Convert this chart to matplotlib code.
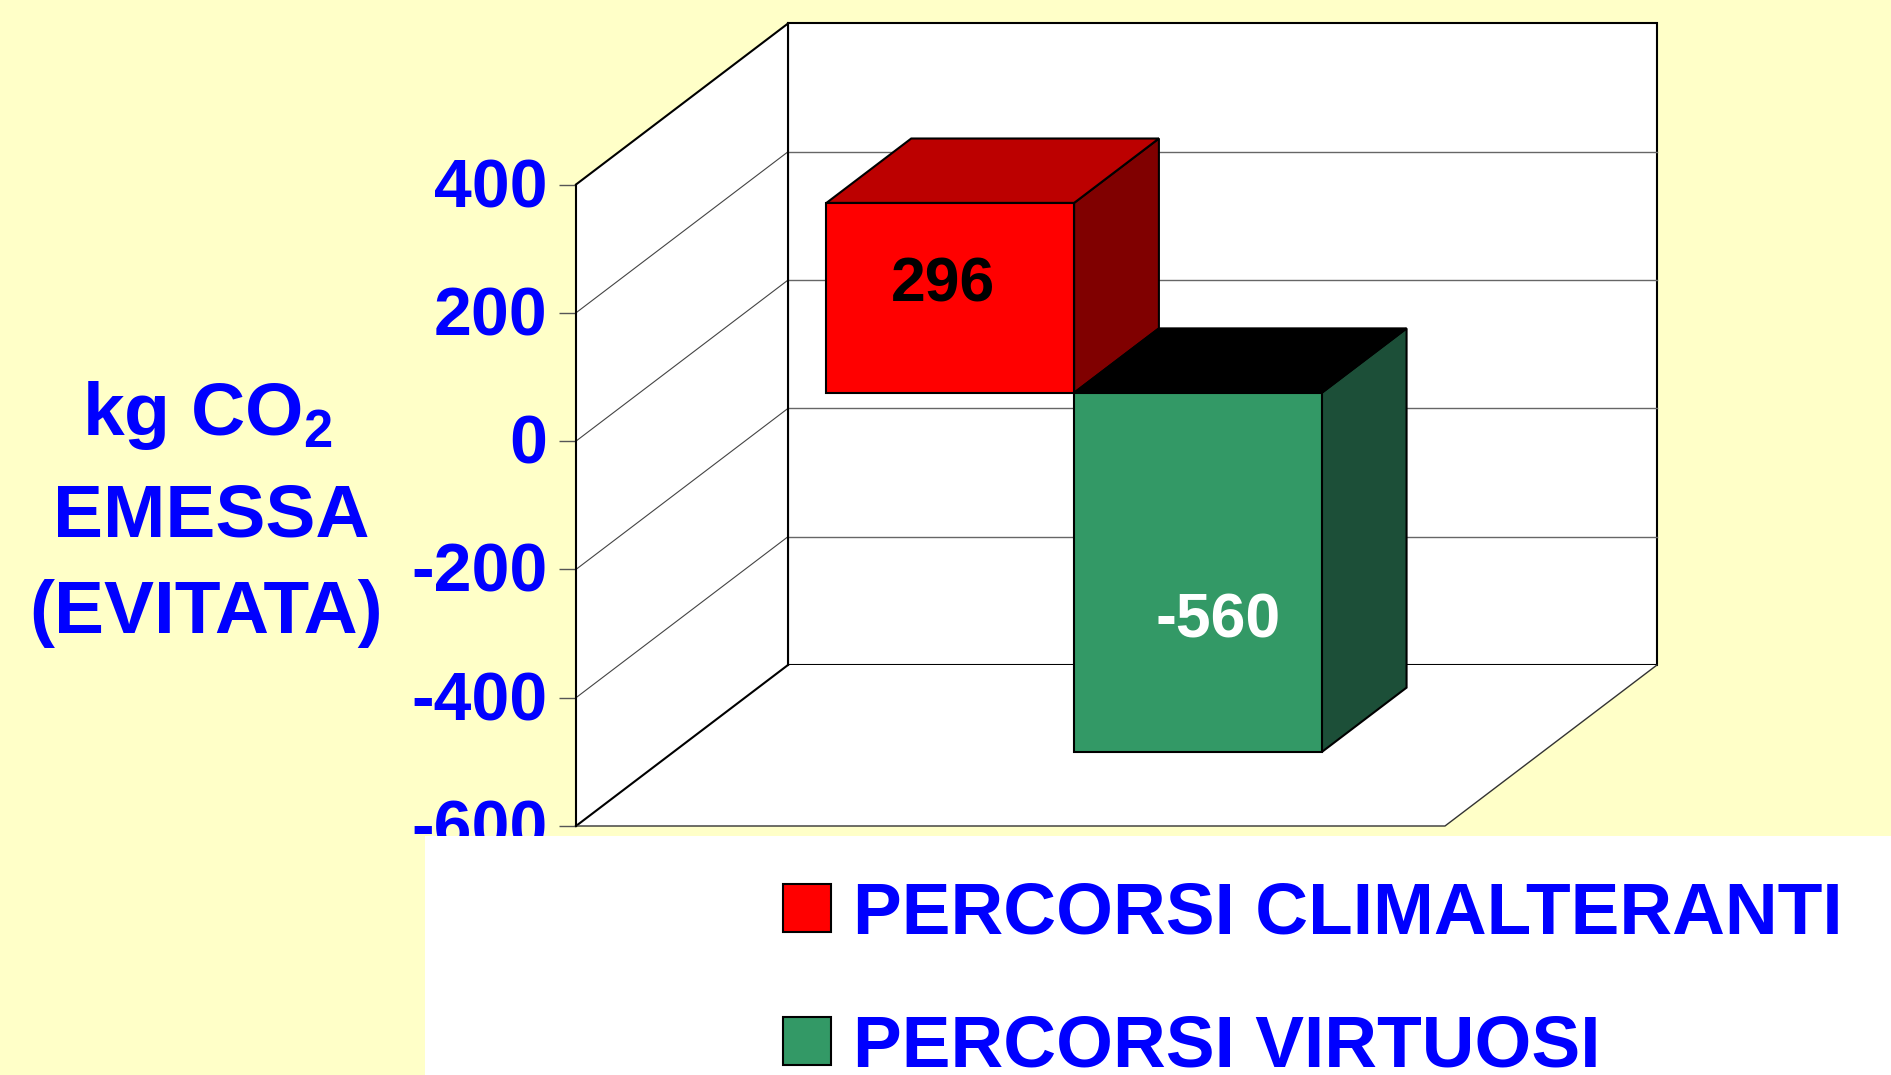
import matplotlib
matplotlib.use('Agg')
import matplotlib.pyplot as plt
from matplotlib.patches import Polygon, Rectangle
from matplotlib.transforms import ScaledTranslation

W, H = 1891, 1075
BG = '#FFFFC8'
BLUE = '#0000FF'

series = ['PERCORSI CLIMALTERANTI', 'PERCORSI VIRTUOSI']
values = [296, -560]
front_colors = ['#FF0000', '#339966']
top_colors = ['#BC0000', '#000000']
side_colors = ['#800000', '#1C4F38']
label_colors = ['black', 'white']
yticks = [-600, -400, -200, 0, 200, 400]
ylabel_lines = ['kg CO$_{\\mathbf{2}}$', 'EMESSA', '(EVITATA)']

# oblique depth: one unit of depth moves this far in x (axes width) and y (value)
DX = 212 / 869
DY = 251
BAR_W = 0.285
BAR_X0 = 0.215
D0, D1 = 0.30, 0.70

plt.rcParams['font.family'] = ['Liberation Sans', 'DejaVu Sans']
plt.rcParams['font.weight'] = 'bold'
plt.rcParams['mathtext.fontset'] = 'custom'
plt.rcParams['mathtext.rm'] = 'Liberation Sans:bold'
plt.rcParams['mathtext.bf'] = 'Liberation Sans:bold'


def proj(x, v, d):
    return (x + d * DX, v + d * DY)


def face(ax, pts, color, ec='black', lw=1.5, z=2):
    ax.add_patch(Polygon([proj(*p) for p in pts], closed=True, fc=color, ec=ec, lw=lw,
                         joinstyle='miter', clip_on=False, zorder=z))


def fx(px):
    return px / W


def fy(py):
    return 1 - py / H


fig = plt.figure(figsize=(W / 100, H / 100), dpi=100, facecolor=BG)
ax = fig.add_axes([fx(576), fy(826), 869 / W, 641.5 / H])
ax.set_xlim(0, 1)
ax.set_ylim(-600, 400)
ax.patch.set_visible(False)
for s in ['top', 'right', 'bottom']:
    ax.spines[s].set_visible(False)
ax.spines['left'].set_linewidth(1.5)
ax.set_xticks([])
ax.set_yticks(yticks)
ax.set_yticklabels([str(t) for t in yticks])  # plain hyphen, not the unicode minus
ax.tick_params(axis='y', length=12, width=1, color='#555555', pad=8.5,
               labelsize=49, labelcolor=BLUE)
for lab in ax.get_yticklabels():
    lab.set_transform(lab.get_transform() + ScaledTranslation(0, 1.8 / 72, fig.dpi_scale_trans))

# walls and floor
vmin, vmax = yticks[0], yticks[-1]
face(ax, [(0, vmin, 1), (1, vmin, 1), (1, vmax, 1), (0, vmax, 1)], 'white', z=1)
face(ax, [(0, vmin, 0), (0, vmin, 1), (0, vmax, 1), (0, vmax, 0)], 'white', ec='none', z=1)
face(ax, [(0, vmin, 0), (1, vmin, 0), (1, vmin, 1), (0, vmin, 1)], 'white', ec='none', z=1)

# gridlines on both walls
for t in yticks:
    major = t in (vmin, vmax)
    xs, ys = zip(proj(0, t, 0), proj(0, t, 1), proj(1, t, 1))
    ax.plot(xs[:2], ys[:2], color='black' if major else '#444444', lw=1.5 if major else 0.8,
            clip_on=False, zorder=1.5)
    if not major:
        ax.plot(xs[1:], ys[1:], color='#666666', lw=1, clip_on=False, zorder=1.5)

# floor edges
xs, ys = zip(proj(0, vmin, 0), proj(1, vmin, 0), proj(1, vmin, 1))
ax.plot(xs, ys, color='#333333', lw=1, clip_on=False, zorder=1.5)
xs, ys = zip(proj(0, vmin, 1), proj(0, vmax, 1))
ax.plot(xs, ys, color='black', lw=1.5, clip_on=False, zorder=1.6)

# bars, far side and top first so the fronts sit on them
label_x = [0.47, 0.58]
label_v = [168, -355]
for i, v in enumerate(values):
    x0 = BAR_X0 + i * BAR_W
    x1 = x0 + BAR_W
    face(ax, [(x1, 0, D0), (x1, 0, D1), (x1, v, D1), (x1, v, D0)], side_colors[i], z=3 + i)
    top = max(v, 0)
    face(ax, [(x0, top, D0), (x1, top, D0), (x1, top, D1), (x0, top, D1)], top_colors[i], z=3 + i)
    face(ax, [(x0, 0, D0), (x1, 0, D0), (x1, v, D0), (x0, v, D0)], front_colors[i], z=3 + i)
    lx, ly = proj(x0 + BAR_W * label_x[i], label_v[i], D0)
    ax.text(lx, ly, str(v), color=label_colors[i], fontsize=45, ha='center', va='center', zorder=8)

# white block of the slide, hides the bottom of -600
fig.add_artist(Rectangle((fx(424.5), 0), 1 - fx(424.5), fy(836), transform=fig.transFigure,
                         fc='white', ec='none', zorder=1))

# legend
for i, name in enumerate(series):
    top_px = 884 + i * 132.7
    fig.add_artist(Rectangle((fx(783), fy(top_px + 48)), 48 / W, 48 / H, transform=fig.transFigure,
                             fc=front_colors[i], ec='black', lw=1.5, zorder=2))
    fig.text(fx(853), fy(top_px + 50), name, color=BLUE, fontsize=52.7, ha='left', va='baseline', zorder=3)

# axis title
for txt, base, cx in zip(ylabel_lines, [435, 536.7, 632.7], [207, 211, 206]):
    fig.text(fx(cx), fy(base), txt, color=BLUE, fontsize=54, ha='center', va='baseline', zorder=3)

fig.savefig('out.png', dpi=100, facecolor=BG)
